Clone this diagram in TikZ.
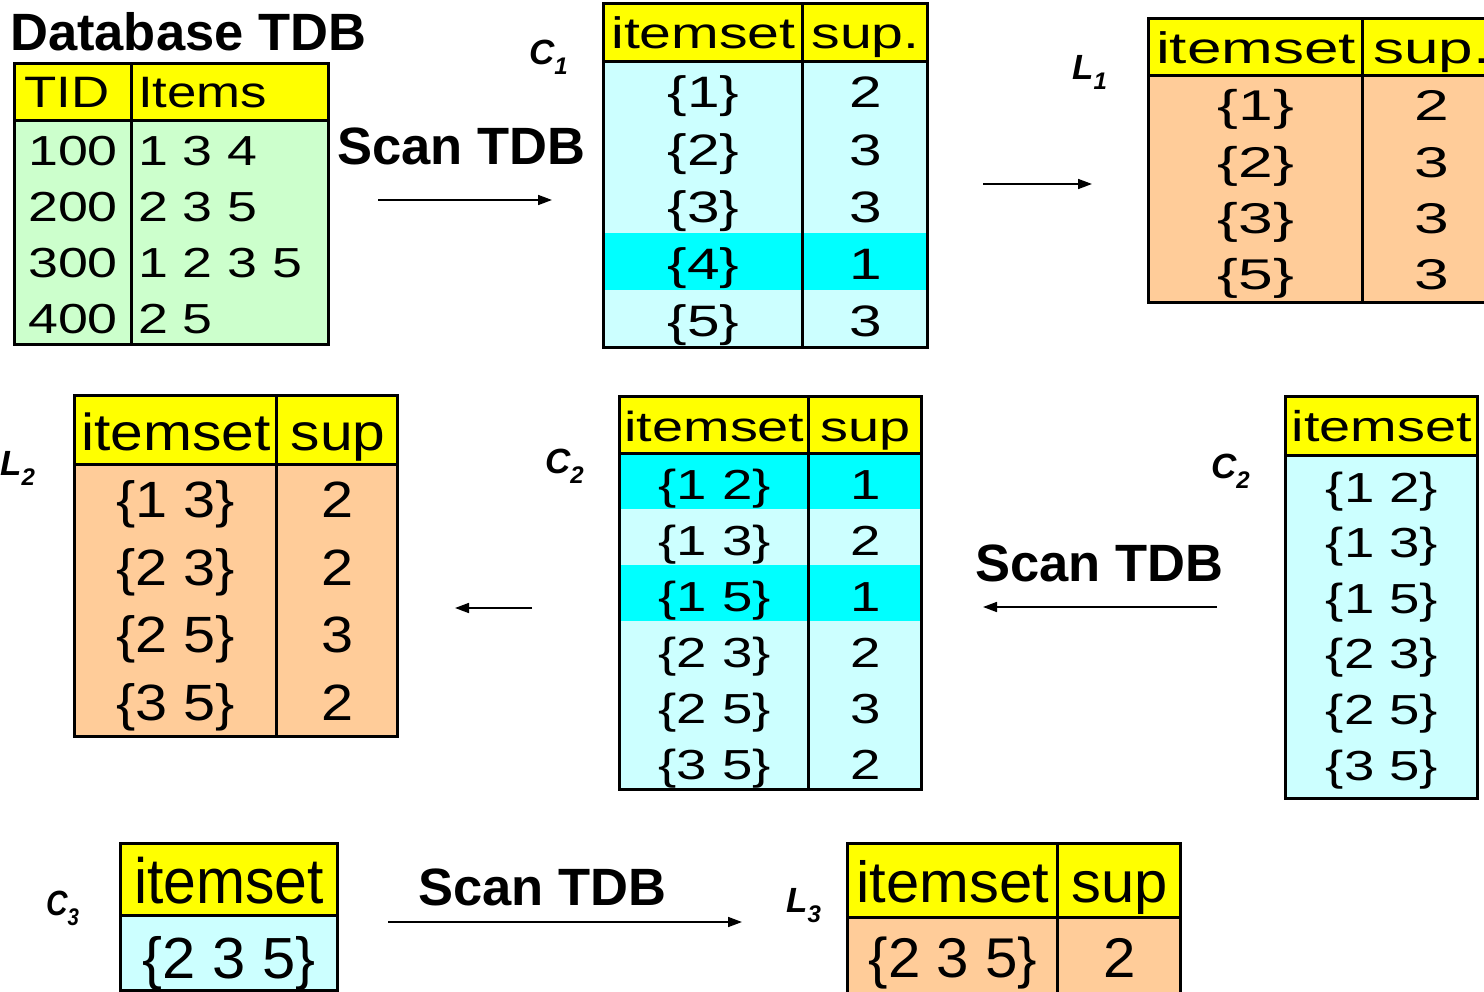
\documentclass[tikz,border=0pt]{standalone}
\usepackage{fontspec}
\setmainfont{Liberation Sans}
\usepackage{graphicx}
\usetikzlibrary{arrows.meta}
\definecolor{hdr}{RGB}{255,255,0}
\definecolor{lcyan}{RGB}{204,255,255}
\definecolor{cyanhl}{RGB}{0,255,255}
\definecolor{peach}{RGB}{255,204,153}
\definecolor{lgreen}{RGB}{204,255,204}
\newcommand\cellt[3]{\scalebox{#2}[1]{\fontsize{#1}{#1}\selectfont #3}}
\newcommand\lbl[3][1]{\scalebox{#1}[1]{{\fontsize{35}{35}\selectfont\bfseries\itshape #2}\raisebox{-10pt}{\fontsize{24}{24}\selectfont\bfseries\itshape #3}}}
\newcommand\scantdb{\fontsize{52.5}{52.5}\selectfont\bfseries Scan TDB}
\begin{document}
\begin{tikzpicture}[x=1pt,y=-1pt,
  tx/.style={inner sep=0pt,anchor=base},
  txw/.style={inner sep=0pt,anchor=base west},
  grid/.style={line width=3pt},
  arr/.style={line width=1.6pt,-{Triangle[length=14pt,width=10pt]}}]
\useasboundingbox (0,0) rectangle (1484,992);
\clip (0,0) rectangle (1484,992);

% ---------- Database TDB ----------
\node[txw] (title) at (10,51) {\fontsize{52.5}{52.5}\selectfont\bfseries Database TDB};
\fill[hdr] (14,64) rectangle (328,121);
\fill[lgreen] (14,121) rectangle (328,345);
\draw[grid] (14,64) rectangle (328,345) (14,121) -- (328,121) (131,64) -- (131,345);
\node[tx] (tdbh1) at (67,108) {\cellt{44}{1.2}{TID}};
\node[txw] (tdbh2) at (138,108) {\cellt{44}{1.2}{Items}};
\foreach \i/\t/\s in {1/100/1 3 4, 2/200/2 3 5, 3/300/1 2 3 5, 4/400/2 5} {
  \node[tx] (tdbt\i) at (73,{110+56*\i}) {\cellt{42}{1.28}{\t}};
  \node[txw] (tdbs\i) at (138,{110+56*\i}) {\cellt{42}{1.28}{\s}};
}

% ---------- C1 ----------
\node[txw] (lc1) at (529,65) {\lbl{C}{1}};
\fill[hdr] (603,4) rectangle (927,62);
\fill[lcyan] (603,62) rectangle (927,348);
\fill[cyanhl] (603,233) rectangle (929,290);
\draw[grid] (603,4) rectangle (927,348) (603,62) -- (927,62) (802,4) -- (802,348);
\node[tx] (c1h1) at (703.5,49) {\cellt{44}{1.3}{itemset}};
\node[tx] (c1h2) at (865.5,49) {\cellt{44}{1.3}{sup.}};
\foreach \i/\a/\b in {1/1/2, 2/2/3, 3/3/3, 4/4/1, 5/5/3} {
  \node[tx] (c1a\i) at (703.5,{50.7+57.2*\i}) {\cellt{44}{1.33}{\{\a\}}};
  \node[tx] (c1b\i) at (865.5,{50.7+57.2*\i}) {\cellt{44}{1.33}{\b}};
}

% ---------- L1 ----------
\node[txw] (ll1) at (1072,80) {\lbl{L}{1}};
\fill[hdr] (1148,19) rectangle (1500,76);
\fill[peach] (1148,76) rectangle (1500,303);
\draw[grid] (1148,19) rectangle (1500,303) (1148,76) -- (1500,76) (1362,19) -- (1362,303);
\node[tx] (l1h1) at (1256,63.3) {\cellt{44}{1.41}{itemset}};
\node[tx] (l1h2) at (1432,63.3) {\cellt{44}{1.41}{sup.}};
\foreach \i/\a/\b in {1/1/2, 2/2/3, 3/3/3, 4/5/3} {
  \node[tx] (l1a\i) at (1256,{64.7+56.2*\i}) {\cellt{43}{1.45}{\{\a\}}};
  \node[tx] (l1b\i) at (1432,{64.7+56.2*\i}) {\cellt{43}{1.45}{\b}};
}

% ---------- L2 ----------
\node[txw] (ll2) at (0,475) {\lbl{L}{2}};
\fill[hdr] (74,396) rectangle (397,464);
\fill[peach] (74,464) rectangle (397,736);
\draw[grid] (74,396) rectangle (397,736) (74,464) -- (397,464) (276,396) -- (276,736);
\node[tx] (l2h1) at (176,450) {\cellt{52}{1.13}{itemset}};
\node[tx] (l2h2) at (338,450) {\cellt{52}{1.13}{sup}};
\foreach \i/\a/\b in {1/1 3/2, 2/2 3/2, 3/2 5/3, 4/3 5/2} {
  \node[tx] (l2a\i) at (176,{450+67.5*\i}) {\cellt{51}{1.13}{\{\a\}}};
  \node[tx] (l2b\i) at (338,{450+67.5*\i}) {\cellt{51}{1.13}{\b}};
}

% ---------- C2 (counted) ----------
\node[txw] (lc2) at (545,473) {\lbl{C}{2}};
\fill[hdr] (619,397) rectangle (921,453);
\fill[lcyan] (619,453) rectangle (921,789);
\fill[cyanhl] (619,453) rectangle (921,509);
\fill[cyanhl] (619,565) rectangle (921,621);
\draw[grid] (619,397) rectangle (921,789) (619,453) -- (921,453) (808,397) -- (808,789);
\node[tx] (c2h1) at (714.5,441) {\cellt{42}{1.33}{itemset}};
\node[tx] (c2h2) at (865.5,441) {\cellt{42}{1.33}{sup}};
\foreach \i/\a/\b in {1/1 2/1, 2/1 3/2, 3/1 5/1, 4/2 3/2, 5/2 5/3, 6/3 5/2} {
  \node[tx] (c2a\i) at (714.5,{443+56*\i}) {\cellt{42}{1.3}{\{\a\}}};
  \node[tx] (c2b\i) at (865.5,{443+56*\i}) {\cellt{42}{1.3}{\b}};
}

% ---------- C2 (candidates) ----------
\node[txw] (lc2r) at (1211,478) {\lbl{C}{2}};
\fill[hdr] (1285,397) rectangle (1477,455);
\fill[lcyan] (1285,455) rectangle (1477,798);
\draw[grid] (1285,397) rectangle (1477,798) (1285,455) -- (1477,455);
\node[tx] (c2rh) at (1382,441.7) {\cellt{43}{1.3}{itemset}};
\foreach \i/\a in {1/1 2, 2/1 3, 3/1 5, 4/2 3, 5/2 5, 6/3 5} {
  \node[tx] (c2r\i) at (1382,{446.4+55.6*\i}) {\cellt{42}{1.3}{\{\a\}}};
}

% ---------- C3 ----------
\node[txw] (lc3) at (46,915) {\lbl[0.85]{C}{3}};
\fill[hdr] (120,843) rectangle (337,915);
\fill[lcyan] (120,915) rectangle (337,990);
\draw[grid] (120,843) rectangle (337,990) (120,915) -- (337,915);
\node[tx] (c3h) at (229,903) {\cellt{64}{0.92}{itemset}};
\node[tx] (c3a) at (229,978) {\cellt{58}{1.03}{\{2 3 5\}}};

% ---------- L3 ----------
\node[txw] (ll3) at (786,912) {\lbl{L}{3}};
\fill[hdr] (847,843) rectangle (1180,917);
\fill[peach] (847,917) rectangle (1180,1000);
\draw[grid] (847,1000) -- (847,843) -- (1180,843) -- (1180,1000) (847,917) -- (1180,917) (1057,843) -- (1057,1000);
\node[tx] (l3h1) at (953,902) {\cellt{58}{1.03}{itemset}};
\node[tx] (l3h2) at (1119.5,902) {\cellt{58}{1.03}{sup}};
\node[tx] (l3a) at (953,977) {\cellt{56}{1.04}{\{2 3 5\}}};
\node[tx] (l3b) at (1119.5,977) {\cellt{56}{1.04}{2}};

% ---------- Scan labels and arrows ----------
\node[txw] (scan1) at (337,165) {\scantdb};
\node[txw] (scan2) at (975,581) {\scantdb};
\node[txw] (scan3) at (418,905) {\scantdb};

\coordinate (a1s) at (378,200); \coordinate (a1e) at (552,200);
\coordinate (a2s) at (983,184); \coordinate (a2e) at (1092,184);
\coordinate (a3s) at (532,608); \coordinate (a3e) at (455,608);
\coordinate (a4s) at (1217,607); \coordinate (a4e) at (983,607);
\coordinate (a5s) at (388,922); \coordinate (a5e) at (742,922);
\draw[arr] (a1s) -- (a1e);
\draw[arr] (a2s) -- (a2e);
\draw[arr] (a3s) -- (a3e);
\draw[arr] (a4s) -- (a4e);
\draw[arr] (a5s) -- (a5e);
\end{tikzpicture}
\end{document}
